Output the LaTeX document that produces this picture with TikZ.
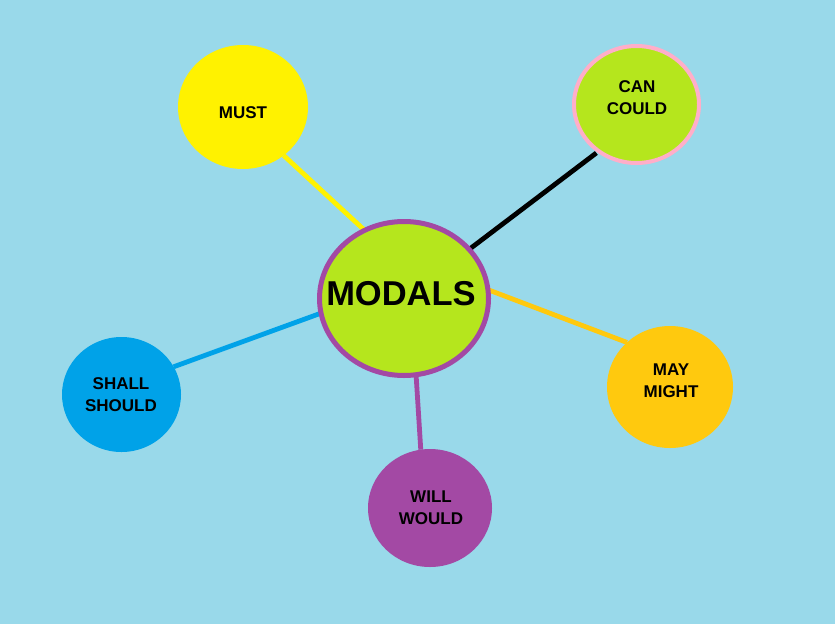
\documentclass[tikz,border=0pt]{standalone}
\usepackage{fontspec}
\setmainfont{Liberation Sans}
\usetikzlibrary{shapes.geometric}
\definecolor{bg}{RGB}{153,217,234}
\definecolor{pgreen}{RGB}{181,230,29}
\definecolor{pyellow}{RGB}{255,242,0}
\definecolor{porange}{RGB}{255,201,14}
\definecolor{ppurple}{RGB}{163,73,164}
\definecolor{pblue}{RGB}{0,162,232}
\definecolor{ppink}{RGB}{255,174,201}
\pgfdeclarelayer{bglayer}
\pgfdeclarelayer{edges}
\pgfsetlayers{bglayer,edges,main}
\tikzset{
  bubble/.style={ellipse, inner sep=0pt, outer sep=0pt},
  lbl/.style={font=\bfseries\fontsize{17}{22}\selectfont, align=center, inner sep=0pt, text=black},
  link/.style={line width=4.8pt}
}
\begin{document}
\begin{tikzpicture}[x=1pt,y=-1pt]
\useasboundingbox (0,0) rectangle (835,624);
\begin{pgfonlayer}{bglayer}
\fill[bg] (0,0) rectangle (835,624);
\end{pgfonlayer}
% bubbles
\node[bubble, fill=pgreen, draw=ppurple, line width=5pt, minimum width=169pt, minimum height=154pt] (c) at (404,298.5) {};
\node[bubble, fill=pyellow, minimum width=130pt, minimum height=124pt] (must) at (243,107) {};
\node[bubble, fill=pgreen, draw=ppink, line width=4pt, minimum width=125pt, minimum height=117pt] (can) at (636.5,104.5) {};
\node[bubble, fill=porange, minimum width=126pt, minimum height=122pt] (may) at (670,387) {};
\node[bubble, fill=ppurple, minimum width=124pt, minimum height=118pt] (will) at (430,508) {};
\node[bubble, fill=pblue, minimum width=119pt, minimum height=115pt] (shall) at (121.5,394.5) {};
% texts
\node[lbl, font=\bfseries\fontsize{34.5}{36}\selectfont] (tc) at (401,294) {MODALS};
\node[lbl] (tmust) at (243,112.5) {MUST};
\node[lbl] (tcan) at (637,98) {CAN\\COULD};
\node[lbl] (tmay) at (671,381) {MAY\\MIGHT};
\node[lbl] (twill) at (431,508) {WILL\\WOULD};
\node[lbl] (tshall) at (121,394.5) {SHALL\\SHOULD};
% connectors
\begin{pgfonlayer}{edges}
\draw[link, pyellow] (c.120.9) -- (must.-50.9);
\draw[link, black, shorten >=3pt] (c.37.6) -- (can.-129.5);
\draw[link, porange] (c.6.5) -- (may.134);
\draw[link, pblue] (c.190) -- (shall.28);
\draw[link, ppurple] (c.-81.4) -- (will.99.8);
\end{pgfonlayer}
\end{tikzpicture}
\end{document}
